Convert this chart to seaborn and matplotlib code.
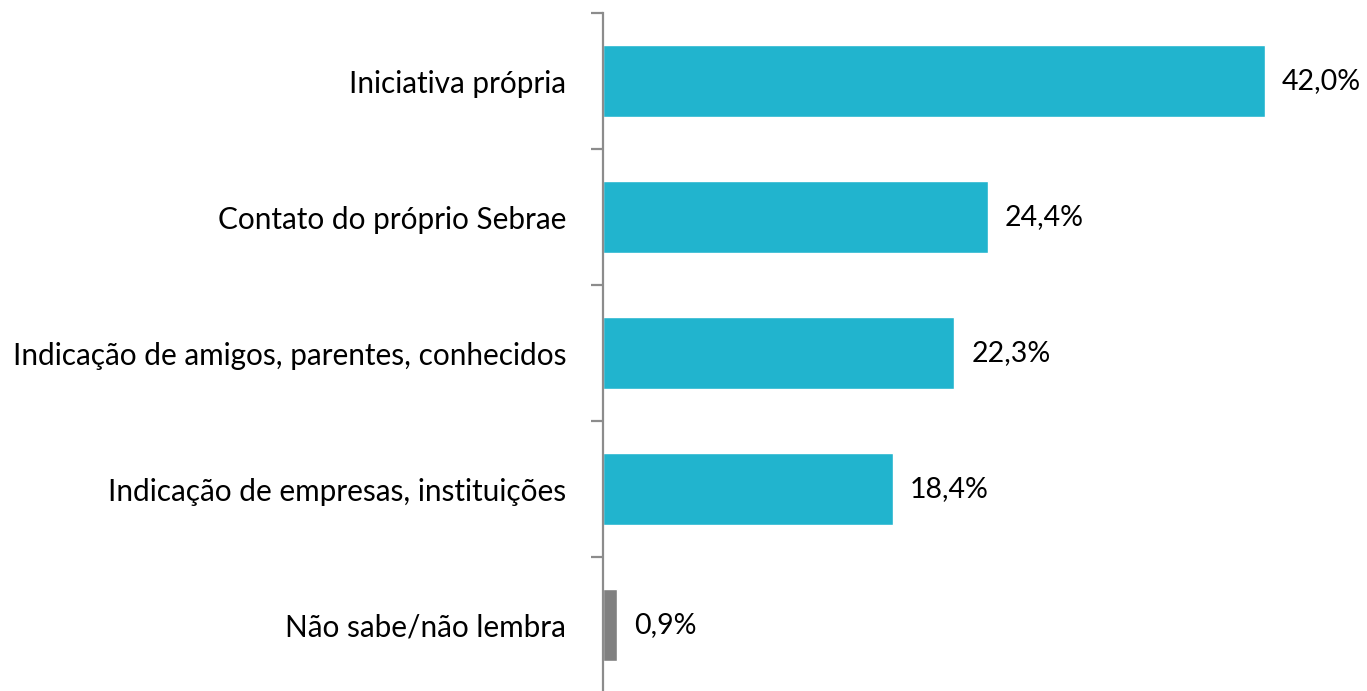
import matplotlib
matplotlib.use("Agg")
import matplotlib.pyplot as plt
import seaborn as sns
import pandas as pd
import numpy as np

categories = ["Iniciativa própria", "Contato do próprio Sebrae",
              "Indicação de amigos, parentes, conhecidos",
              "Indicação de empresas, instituições", "Não sabe/não lembra"]
values = [42.0, 24.4, 22.3, 18.4, 0.9]
labels = ["42,0%", "24,4%", "22,3%", "18,4%", "0,9%"]
colors = ["#21B4CE", "#21B4CE", "#21B4CE", "#21B4CE", "#808080"]

sns.set_theme(style="white")
plt.rcParams['font.family'] = ['Lato', 'DejaVu Sans']

df = pd.DataFrame({"cat": categories, "val": values})

fig = plt.figure(figsize=(13.67, 6.91), dpi=100)
ax = fig.add_axes([603/1367, 1 - 693/691, 1 - 603/1367, 680/691])

sns.barplot(data=df, y="cat", x="val", hue="cat", palette=colors,
            orient="h", width=0.53, legend=False, ax=ax, saturation=1)

ax.set_xlim(0, (1367 - 603) / 15.76)
ax.set_ylim(4.5, -0.5)
ax.set_xlabel("")
ax.set_ylabel("")
ax.set_xticks([])

for s in ["top", "right", "bottom"]:
    ax.spines[s].set_visible(False)
ax.spines["left"].set_color("#8c8c8c")
ax.spines["left"].set_linewidth(1.6)

ax.set_yticks(range(len(categories)))
ax.set_yticklabels(categories, fontsize=21.4, color="#000000")
ax.tick_params(axis="y", which="major", length=0, pad=26.5)
ax.set_yticks(np.arange(-0.5, len(categories) + 0.5, 1), minor=True)
ax.tick_params(axis="y", which="minor", length=9, width=1.6, color="#8c8c8c", left=True)

for i, (v, lab) in enumerate(zip(values, labels)):
    ax.annotate(lab, xy=(v, i), xytext=(17, 0), textcoords="offset pixels",
                ha="left", va="center", fontsize=20.5, color="#000000")

fig.savefig("out.png", dpi=100)
